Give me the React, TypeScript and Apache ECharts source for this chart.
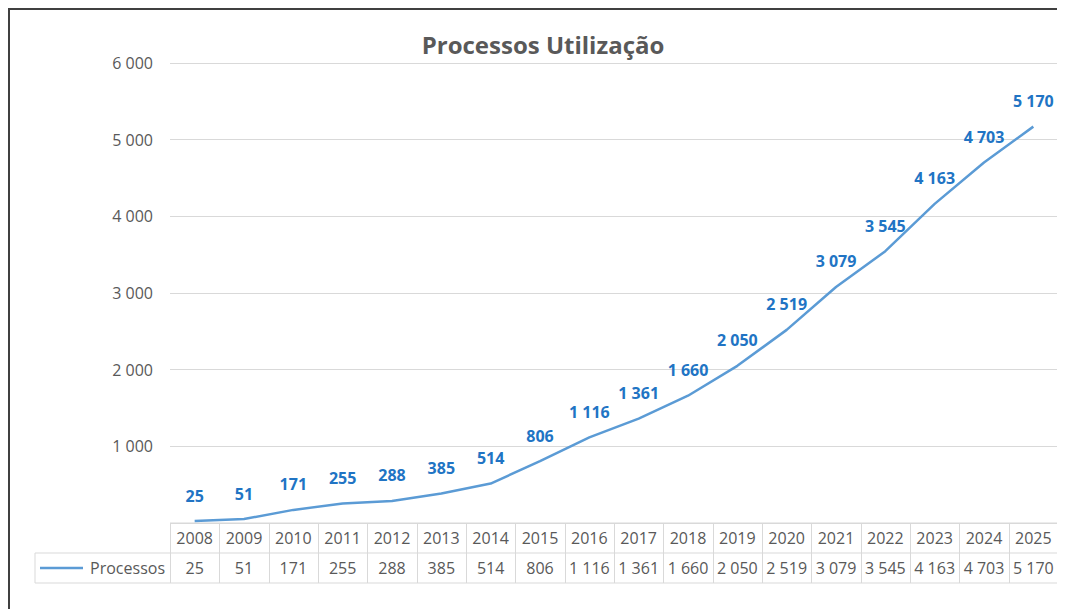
import React, { useEffect, useRef } from "react";
import * as echarts from "echarts";

const years = ["2008","2009","2010","2011","2012","2013","2014","2015","2016","2017","2018","2019","2020","2021","2022","2023","2024","2025"];
const processos = [25, 51, 171, 255, 288, 385, 514, 806, 1116, 1361, 1660, 2050, 2519, 3079, 3545, 4163, 4703, 5170];
const seriesName = "Processos";
const titleText = "Processos Utilização";

const fmt = (v: number) => String(v).replace(/\B(?=(\d{3})+(?!\d))/g, " ");

const W = 1055;
const H = 599;
const GL = 160;
const GR = 1048;
const GT = 53;
const GB = 513;
const ROW = 30;
const FONT = "'Open Sans', 'Noto Sans', sans-serif";
const GRAY = "#595959";
const LINE_BLUE = "#5b9bd5";
const LABEL_BLUE = "#2174c4";
const BORDER = "#d9d9d9";

function buildTable() {
  const n = years.length;
  const w = (GR - GL) / n;
  const els: any[] = [];
  const ln = (x1: number, y1: number, x2: number, y2: number) => ({
    type: "line",
    shape: { x1, y1, x2, y2 },
    style: { stroke: BORDER, lineWidth: 1 },
    silent: true,
  });
  els.push(ln(GL, GB, GR, GB));
  els.push(ln(25, GB + ROW, GR, GB + ROW));
  els.push(ln(25, GB + 2 * ROW, GR, GB + 2 * ROW));
  els.push(ln(25, GB + ROW, 25, GB + 2 * ROW));
  for (let i = 0; i <= n; i++) {
    const x = Math.round(GL + i * w) + 0.5;
    els.push(ln(x, GB, x, GB + 2 * ROW));
  }
  years.forEach((y, i) => {
    const cx = GL + (i + 0.5) * w;
    els.push({
      type: "text",
      x: cx,
      y: GB + ROW / 2,
      style: { text: y, fill: GRAY, font: `16px ${FONT}`, align: "center", verticalAlign: "middle" },
      silent: true,
    });
    els.push({
      type: "text",
      x: cx,
      y: GB + ROW * 1.5,
      style: { text: fmt(processos[i]), fill: GRAY, font: `16px ${FONT}`, align: "center", verticalAlign: "middle" },
      silent: true,
    });
  });
  els.push({
    type: "line",
    shape: { x1: 30, y1: GB + ROW * 1.5, x2: 73, y2: GB + ROW * 1.5 },
    style: { stroke: LINE_BLUE, lineWidth: 2.5 },
    silent: true,
  });
  els.push({
    type: "text",
    x: 155,
    y: GB + ROW * 1.5,
    style: { text: seriesName, fill: GRAY, font: `16px ${FONT}`, align: "right", verticalAlign: "middle" },
    silent: true,
  });
  return els;
}

export default function App() {
  const ref = useRef<HTMLDivElement>(null);
  useEffect(() => {
    if (!ref.current) return;
    const chart = echarts.init(ref.current, undefined, { renderer: "svg" });
    chart.setOption({
      animation: false,
      backgroundColor: "#ffffff",
      title: {
        text: titleText,
        left: 528,
        textAlign: "center",
        top: 17,
        textStyle: { color: GRAY, fontSize: 24, fontWeight: "bold", fontFamily: FONT },
      },
      grid: { left: GL, right: W - GR, top: GT, bottom: H - GB },
      xAxis: {
        type: "category",
        data: years,
        boundaryGap: true,
        axisLine: { show: false },
        axisTick: { show: false },
        axisLabel: { show: false },
        splitLine: { show: false },
      },
      yAxis: {
        type: "value",
        min: 0,
        max: 6000,
        interval: 1000,
        axisLine: { show: false },
        axisTick: { show: false },
        axisLabel: {
          color: GRAY,
          fontSize: 16,
          fontFamily: FONT,
          margin: 17,
          formatter: (v: number) => (v === 0 ? "" : fmt(v)),
        },
        splitLine: { lineStyle: { color: "#d9d9d9", width: 1 } },
      },
      series: [
        {
          name: seriesName,
          type: "line",
          data: processos,
          symbol: "circle",
          symbolSize: 1,
          showSymbol: true,
          itemStyle: { color: "rgba(0,0,0,0)", borderWidth: 0 },
          lineStyle: { color: LINE_BLUE, width: 2.5 },
          labelLayout: { hideOverlap: false },
          label: {
            show: true,
            position: "top",
            distance: 17,
            color: LABEL_BLUE,
            fontSize: 16,
            fontWeight: "bold",
            fontFamily: FONT,
            formatter: (p: any) => fmt(p.value),
          },
        },
      ],
      graphic: buildTable(),
    });
    return () => chart.dispose();
  }, []);
  return (
    <div
      style={{
        width: W,
        height: H,
        borderLeft: "2px solid #404040",
        borderTop: "2px solid #404040",
        background: "#fff",
      }}
    >
      <div ref={ref} style={{ width: W, height: H }} />
    </div>
  );
}
